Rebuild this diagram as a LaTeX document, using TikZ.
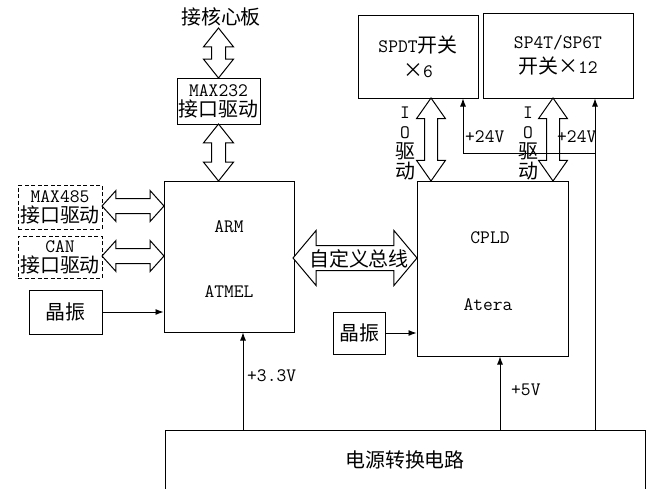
\documentclass[tikz,border=0pt]{standalone}
\usepackage{fontspec}
\newfontfamily\cjk[Scale=1.05]{Noto Sans CJK SC}
\usetikzlibrary{shapes.arrows,arrows.meta}
\begin{document}
\begin{tikzpicture}[x=1pt,y=-1pt,
  every node/.style={font=\ttfamily\fontsize{19}{20}\selectfont,inner sep=0pt},
  box/.style={draw,line width=1pt,inner sep=0pt,align=center},
  dbox/.style={box,dash pattern=on 4pt off 2.5pt},
  lbl/.style={align=center},
  dbl/.style={double arrow,draw,fill=white,line width=1pt,inner sep=0pt,double arrow head indent=0pt},
  vdbl/.style={dbl,rotate=90,minimum width=29pt,double arrow head extend=8pt,double arrow tip angle=77},
  hdbl/.style={dbl,minimum width=30pt,double arrow head extend=8pt,double arrow tip angle=96},
  iodbl/.style={dbl,rotate=90,minimum width=28pt,double arrow head extend=8pt,double arrow tip angle=70},
  busdbl/.style={dbl,minimum width=53pt,double arrow head extend=15pt,double arrow tip angle=100},
  conn/.style={line width=0.9pt,-{Latex[length=8pt,width=6pt]}},
  wire/.style={line width=0.9pt}
]
\newcommand\shaft[1]{\rule[-\dimexpr#1/2\relax]{0pt}{#1}}
\useasboundingbox (0,0) rectangle (652,488);
\clip (0,0) rectangle (652,488);

% blocks
\node[lbl] (core) at (221,17) {\cjk 接核心板};
\node[box,minimum width=83pt,minimum height=46pt] (m232) at (218.5,101) {MAX232\\{\cjk 接口驱动}};
\node[box,minimum width=130pt,minimum height=151pt] (arm) at (229,256.5) {};
\node[lbl] (armt) at (229,227) {ARM};
\node[lbl] (atmel) at (229,292) {ATMEL};
\node[dbox,minimum width=84pt,minimum height=44pt] (m485) at (60,207) {MAX485\\{\cjk 接口驱动}};
\node[dbox,minimum width=84pt,minimum height=42pt] (can) at (60,257) {CAN\\{\cjk 接口驱动}};
\node[box,minimum width=73pt,minimum height=44pt] (osc1) at (65.5,312) {\cjk 晶振};
\node[box,minimum width=151pt,minimum height=175pt] (cpld) at (492.5,268.5) {};
\node[lbl] (cpldt) at (490,238) {CPLD};
\node[lbl] (atera) at (488,305) {Atera};
\node[box,minimum width=52pt,minimum height=42pt] (osc2) at (359,333) {\cjk 晶振};
\node[box,minimum width=120pt,minimum height=83pt] (spdt) at (418,56.5) {SPDT{\cjk 开关}\\[5pt]{\cjk ×}6};
\node[box,minimum width=150pt,minimum height=85pt] (sp4t) at (558,55.5) {SP4T/SP6T\\[5pt]{\cjk 开关×}12};
\node[box,minimum width=480pt,minimum height=62pt] (power) at (405,461) {};
\node[lbl] (powert) at (405,460) {\cjk 电源转换电路};

% double arrows
\node[vdbl,minimum height=50pt] (a1) at (218.5,53) {\shaft{13pt}};
\node[vdbl,minimum height=57pt] (a2) at (218.5,152.5) {\shaft{13pt}};
\node[hdbl,minimum height=62pt] (a3) at (133,206) {\shaft{14pt}};
\node[hdbl,minimum height=62pt] (a4) at (133,256) {\shaft{14pt}};
\node[busdbl,minimum height=124pt] (bus) at (355,258) {\shaft{24pt}};
\node[lbl] (bust) at (359,259) {\cjk 自定义总线};
\node[iodbl,minimum height=83pt] (io1) at (431,139.5) {\shaft{12pt}};
\node[iodbl,minimum height=83pt] (io2) at (553,139.5) {\shaft{12pt}};
\node[lbl] (io1t) at (405,143) {I\\O\\{\cjk 驱}\\{\cjk 动}};
\node[lbl] (io2t) at (528,143) {I\\O\\{\cjk 驱}\\{\cjk 动}};

% connectors
\draw[conn] (osc1.east) -- (osc1.east -| arm.west);
\draw[conn] (osc2.east) -- (osc2.east -| cpld.west);
\draw[conn] (243,0 |- power.north) -- (243,0 |- arm.south);
\draw[conn] (500,0 |- power.north) -- (500,0 |- cpld.south);
\draw[conn] (595,0 |- power.north) -- (595,0 |- sp4t.south);
\coordinate (j24) at (595,153);
\draw[conn] (j24) -- (463,153) -- (463,0 |- spdt.south);

% labels
\node[anchor=west] (l33) at (247,376) {+3.3V};
\node[anchor=west] (l5) at (511,390) {+5V};
\node[anchor=west] (l24a) at (465,137) {+24V};
\node[anchor=west] (l24b) at (557,137) {+24V};
\end{tikzpicture}
\end{document}
